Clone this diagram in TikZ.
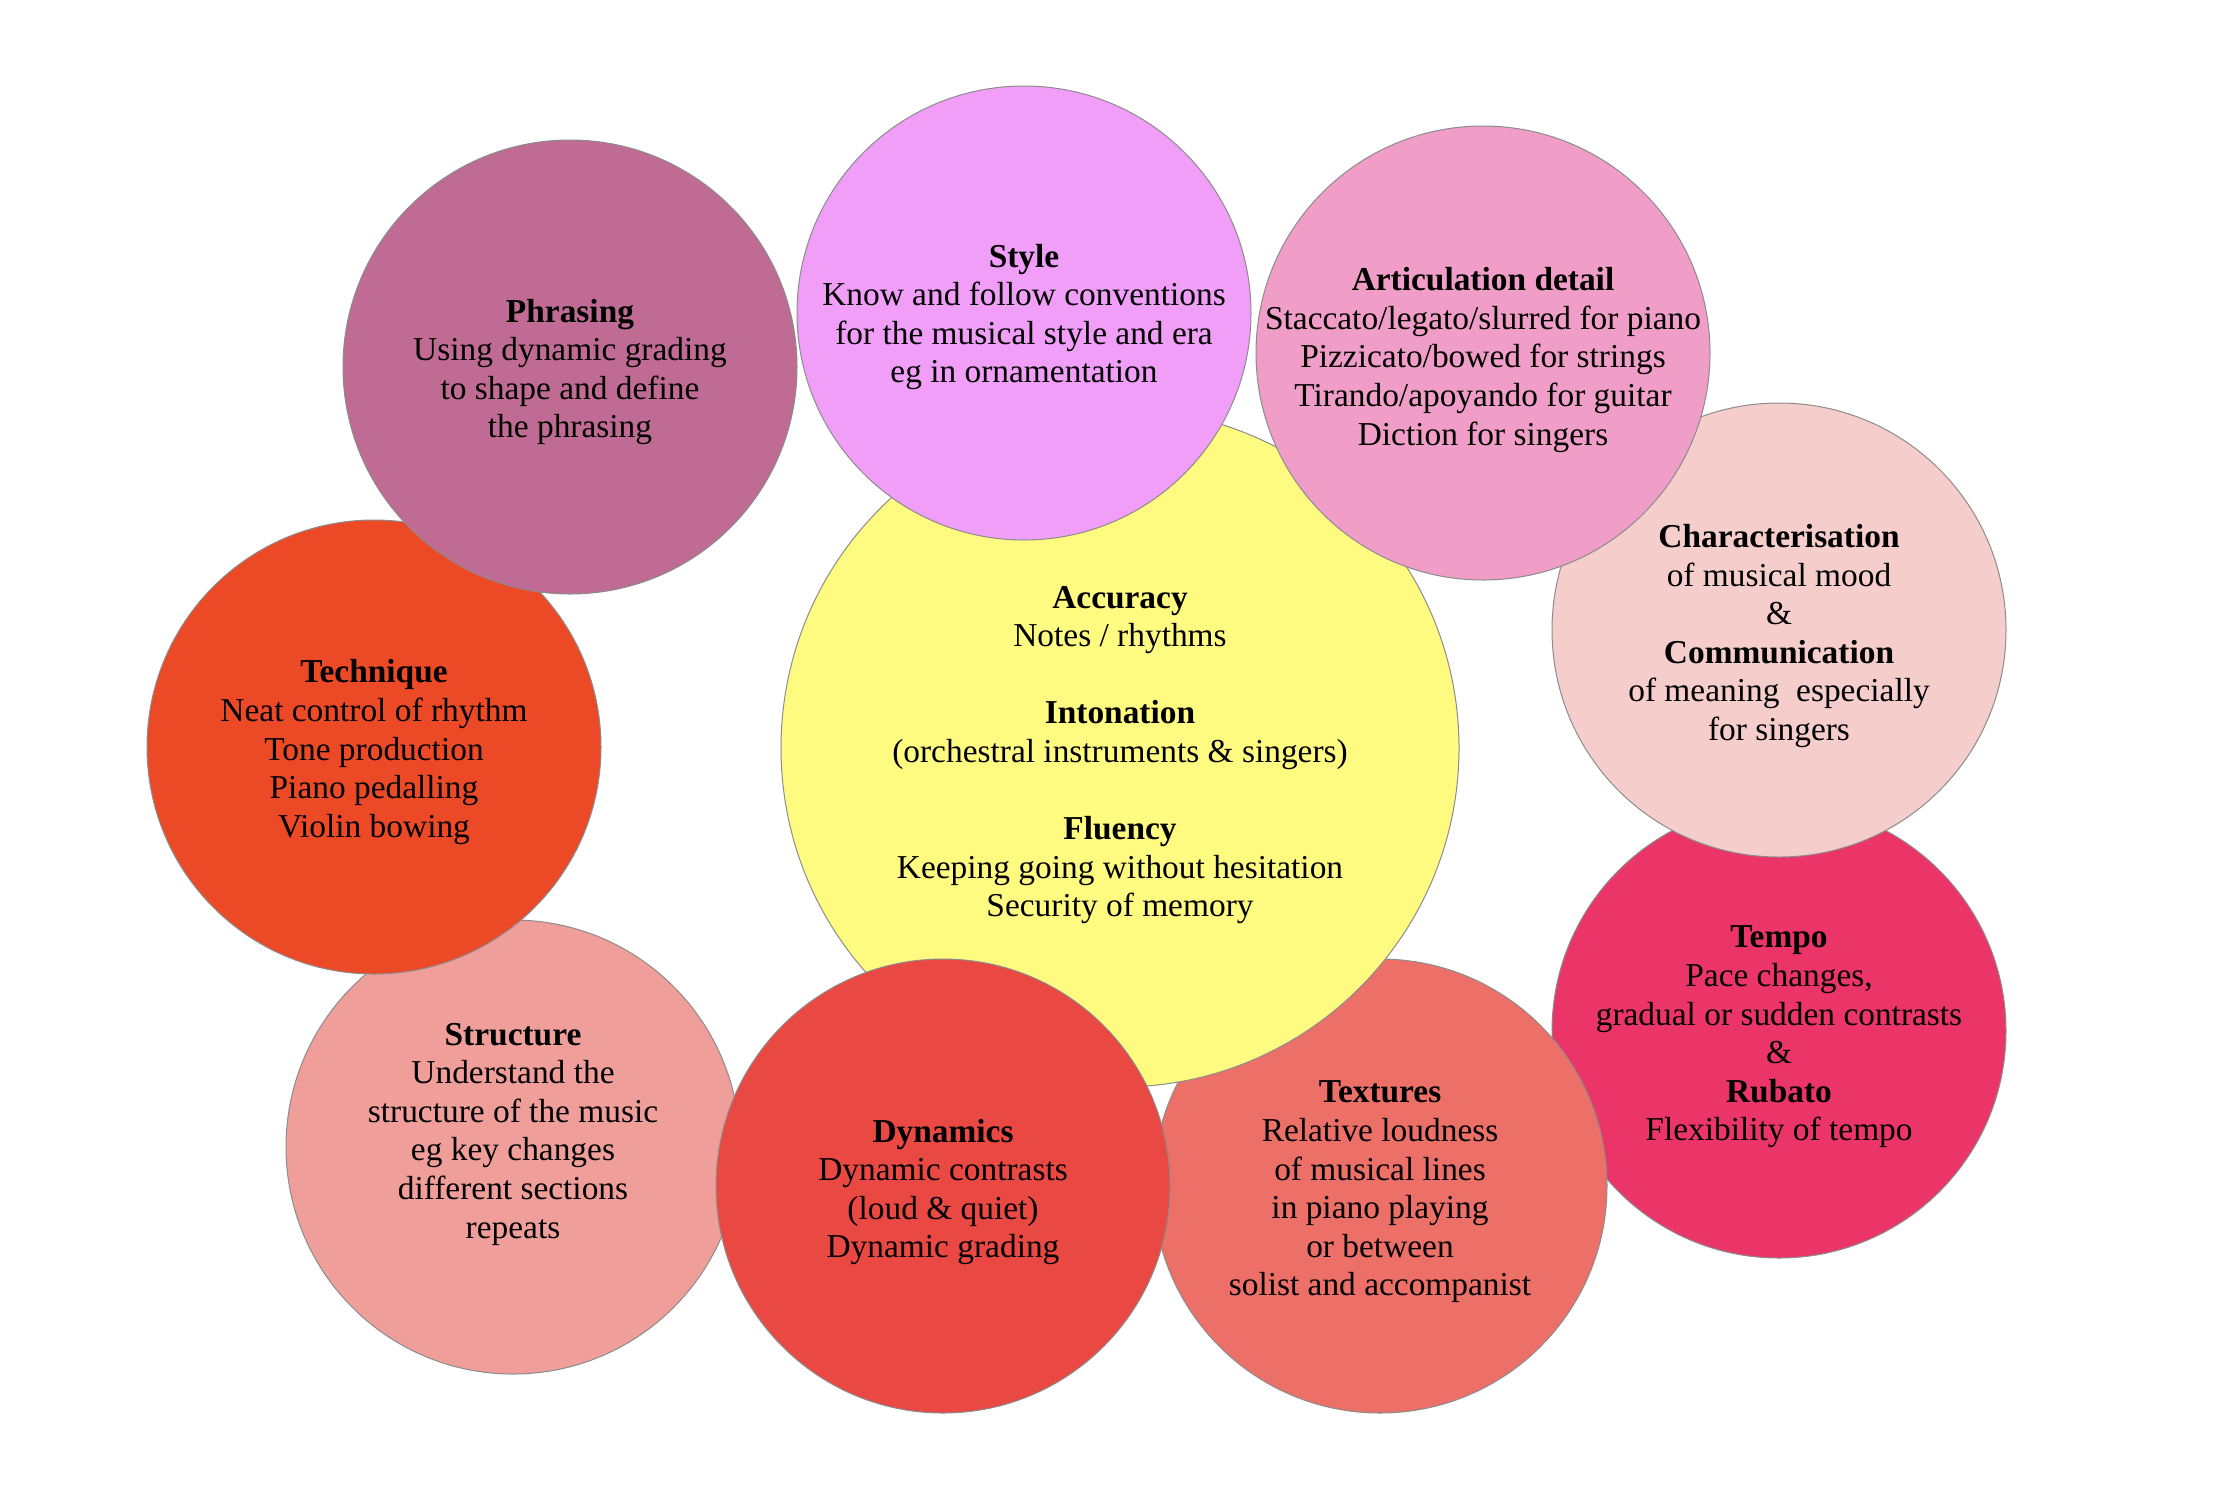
\documentclass[tikz,border=0pt]{standalone}
\usepackage{fontspec}
\setmainfont{Liberation Serif}
\definecolor{bordergray}{RGB}{140,140,140}
\definecolor{cyellow}{RGB}{255,251,128}
\definecolor{cphrasing}{RGB}{192,107,147}
\definecolor{cstyle}{RGB}{240,158,248}
\definecolor{cartic}{RGB}{240,157,200}
\definecolor{cchar}{RGB}{245,206,204}
\definecolor{ctempo}{RGB}{235,52,104}
\definecolor{ctextures}{RGB}{236,111,104}
\definecolor{cdynamics}{RGB}{234,72,66}
\definecolor{cstructure}{RGB}{240,158,154}
\definecolor{ctechnique}{RGB}{236,74,38}
\begin{document}
\begin{tikzpicture}[x=0.5pt,y=-0.5pt,
  bub/.style={draw=bordergray, line width=0.5pt},
  txt/.style={align=center, font=\fontsize{16.7}{19.3}\selectfont, inner sep=0pt}]
\useasboundingbox (0,0) rectangle (2214,1506);
\fill[white] (0,0) rectangle (2214,1506);
% Structure
\filldraw[bub, fill=cstructure] (513,1147) circle (113.5pt);
\node[txt] (structure) at (513,1134) {\textbf{Structure}\\Understand the\\structure of the music\\eg key changes\\different sections\\repeats};
% Technique
\filldraw[bub, fill=ctechnique] (374,747) circle (113.5pt);
\node[txt] (technique) at (374,752) {\textbf{Technique}\\Neat control of rhythm\\Tone production\\Piano pedalling\\Violin bowing};
% Phrasing
\filldraw[bub, fill=cphrasing] (570,367) circle (113.5pt);
\node[txt] (phrasing) at (570,372) {\textbf{Phrasing}\\Using dynamic grading\\to shape and define\\the phrasing};
% Tempo
\filldraw[bub, fill=ctempo] (1779,1031) circle (113.5pt);
\node[txt] (tempo) at (1779,1037) {\textbf{Tempo}\\Pace changes,\\gradual or sudden contrasts\\\&\\\textbf{Rubato}\\Flexibility of tempo};
% Characterisation
\filldraw[bub, fill=cchar] (1779,630) circle (113.5pt);
\node[txt] (char) at (1779,636) {\textbf{Characterisation}\\of musical mood\\\&\\\textbf{Communication}\\of meaning\ \ especially\\for singers};
% Textures
\filldraw[bub, fill=ctextures] (1380,1186) circle (113.5pt);
\node[txt] (textures) at (1380,1192) {\textbf{Textures}\\Relative loudness\\of musical lines\\in piano playing\\or between\\solist and accompanist};
% Centre
\filldraw[bub, fill=cyellow] (1120,748) circle (169.5pt);
\node[txt] (centre) at (1120,755) {\textbf{Accuracy}\\Notes / rhythms\\[19.3pt]\textbf{Intonation}\\(orchestral instruments \& singers)\\[19.3pt]\textbf{Fluency}\\Keeping going without hesitation\\Security of memory};
% Style
\filldraw[bub, fill=cstyle] (1024,313) circle (113.5pt);
\node[txt] (style) at (1024,317) {\textbf{Style}\\Know and follow conventions\\for the musical style and era\\eg in ornamentation};
% Articulation
\filldraw[bub, fill=cartic] (1483,353) circle (113.5pt);
\node[txt] (artic) at (1483,360) {\textbf{Articulation detail}\\Staccato/legato/slurred for piano\\Pizzicato/bowed for strings\\Tirando/apoyando for guitar\\Diction for singers};
% Dynamics
\filldraw[bub, fill=cdynamics] (943,1186) circle (113.5pt);
\node[txt] (dynamics) at (943,1192) {\textbf{Dynamics}\\Dynamic contrasts\\(loud \& quiet)\\Dynamic grading};
\end{tikzpicture}
\end{document}
